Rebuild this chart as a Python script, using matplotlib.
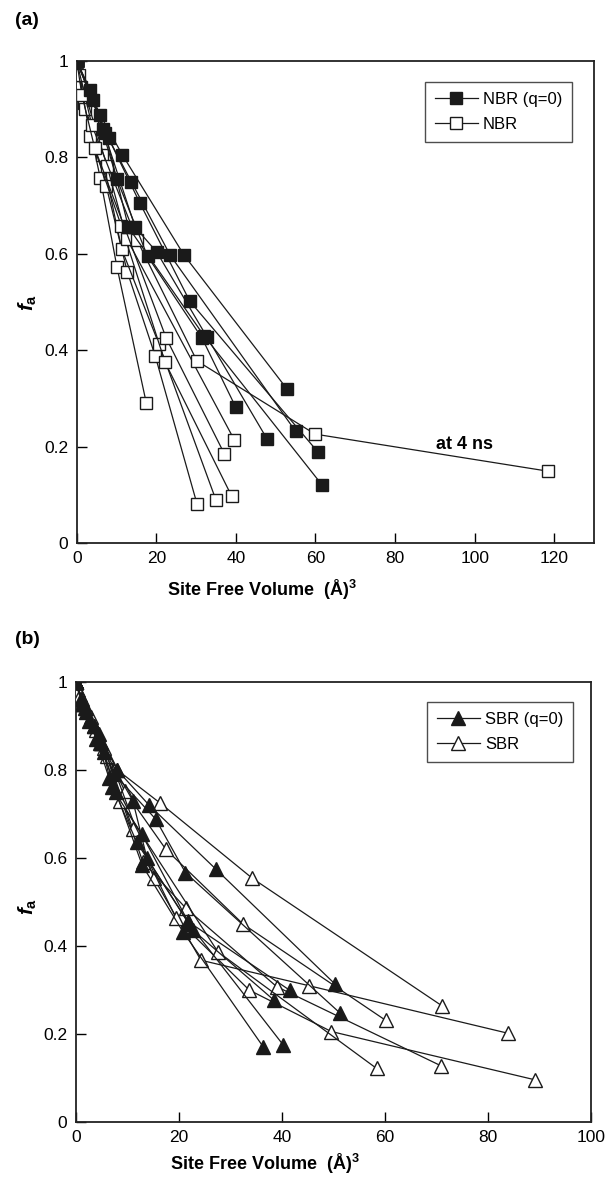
import matplotlib
matplotlib.use('Agg')
import matplotlib.pyplot as plt
from matplotlib.lines import Line2D

plt.rcParams['font.family'] = ['Liberation Sans', 'DejaVu Sans']
plt.rcParams['mathtext.fontset'] = 'custom'
plt.rcParams['mathtext.rm'] = 'Liberation Sans:bold'
plt.rcParams['mathtext.it'] = 'Liberation Sans:bold:italic'
plt.rcParams['mathtext.bf'] = 'Liberation Sans:bold'

# (a) NBR, filled = q=0, open = charged ; one list per trajectory
nbr_q0_x = [[0, 3.4, 10.1, 17.8, 31.5, 39.9],
            [0, 4.2, 14.7, 20.1, 32.7, 47.9],
            [0, 5.9, 11.5, 27.0, 52.9],
            [0, 6.7, 13.7, 23.5, 55.0],
            [0, 8.0, 15.9, 28.4, 60.6],
            [0, 7.2, 13.0, 32.0, 61.7]]
nbr_q0_y = [[1, 0.94, 0.755, 0.595, 0.425, 0.283],
            [1, 0.919, 0.655, 0.604, 0.428, 0.215],
            [1, 0.888, 0.805, 0.597, 0.319],
            [1, 0.86, 0.75, 0.597, 0.232],
            [1, 0.84, 0.705, 0.502, 0.189],
            [1, 0.85, 0.655, 0.43, 0.12]]

nbr_x = [[0, 1.0, 5.9, 10.1, 17.5],
         [0, 1.8, 7.4, 12.7, 19.7, 30.2],
         [0, 2.2, 6.3, 11.3, 20.6, 35.0],
         [0, 3.4, 11.2, 22.2, 38.9],
         [0, 0.65, 7.6, 12.6, 39.6],
         [0, 3.8, 15.2, 30.2, 59.9, 118.5],
         [0, 1.3, 4.5, 22.5, 37.1]]
nbr_y = [[1, 0.947, 0.758, 0.573, 0.29],
         [1, 0.912, 0.741, 0.563, 0.389, 0.082],
         [1, 0.90, 0.805, 0.61, 0.414, 0.089],
         [1, 0.844, 0.658, 0.375, 0.098],
         [1, 0.971, 0.783, 0.631, 0.214],
         [1, 0.867, 0.628, 0.378, 0.226, 0.149],
         [1, 0.93, 0.82, 0.425, 0.185]]

# (b) SBR
sbr_q0_x = [[0, 1.5, 4.5, 8.0, 14.2, 27.2, 50.4],
            [0, 1.0, 3.5, 7.5, 15.5, 21.3, 51.2],
            [0, 2.0, 5.0, 7.0, 12.8, 21.8, 41.5],
            [0, 1.2, 4.0, 6.5, 11.8, 22.7, 38.4],
            [0, 2.5, 5.5, 7.8, 12.9, 20.8, 36.4],
            [0, 1.8, 4.8, 11.1, 13.8, 22.0, 40.3]]
sbr_q0_y = [[1, 0.95, 0.88, 0.80, 0.72, 0.574, 0.312],
            [1, 0.96, 0.90, 0.79, 0.688, 0.566, 0.248],
            [1, 0.93, 0.86, 0.76, 0.654, 0.455, 0.299],
            [1, 0.95, 0.87, 0.78, 0.636, 0.436, 0.277],
            [1, 0.91, 0.84, 0.75, 0.583, 0.432, 0.17],
            [1, 0.94, 0.86, 0.729, 0.60, 0.45, 0.174]]

sbr_x = [[0, 0.5, 3.0, 8.0, 16.4, 34.3, 71.0],
         [0, 1.0, 4.0, 9.5, 17.5, 32.5, 60.2],
         [0, 0.8, 5.0, 7.5, 15.2, 24.3, 45.3, 83.9],
         [0, 1.5, 6.0, 13.0, 21.4, 39.0, 70.9],
         [0, 2.0, 5.5, 11.1, 19.5, 33.7, 49.6, 89.2],
         [0, 1.2, 3.5, 8.6, 27.6, 58.4]]
sbr_y = [[1, 0.98, 0.92, 0.80, 0.724, 0.553, 0.264],
         [1, 0.96, 0.89, 0.752, 0.619, 0.449, 0.23],
         [1, 0.97, 0.86, 0.80, 0.553, 0.367, 0.309, 0.201],
         [1, 0.95, 0.83, 0.591, 0.485, 0.307, 0.127],
         [1, 0.94, 0.85, 0.665, 0.462, 0.299, 0.205, 0.095],
         [1, 0.96, 0.90, 0.729, 0.386, 0.121]]

fig = plt.figure(figsize=(6.09, 11.79), dpi=100)
ax1 = fig.add_axes([0.126, 0.5394, 0.8494, 0.4088])
ax2 = fig.add_axes([0.1243, 0.0486, 0.8461, 0.3732])

lw = 0.9


def draw(ax, xs, ys, marker, face, ms):
    for x, y in zip(xs, ys):
        ax.plot(x, y, '-', color='#1a1a1a', lw=lw, marker=marker, ms=ms,
                mfc=face, mec='#1a1a1a', mew=1.0, zorder=3 if face == 'white' else 4)


draw(ax1, nbr_x, nbr_y, 's', 'white', 8.5)
draw(ax1, nbr_q0_x, nbr_q0_y, 's', '#1a1a1a', 8.5)
draw(ax2, sbr_x, sbr_y, '^', 'white', 9.5)
draw(ax2, sbr_q0_x, sbr_q0_y, '^', '#1a1a1a', 9.5)

ax1.text(97.4, 0.205, 'at 4 ns', fontsize=13, fontweight='bold', ha='center', va='center')

for ax, xmax, xt in [(ax1, 130, range(0, 121, 20)), (ax2, 100, range(0, 101, 20))]:
    ax.set_xlim(0, xmax)
    ax.set_ylim(0, 1)
    ax.set_xticks(list(xt))
    ax.set_yticks([0, 0.2, 0.4, 0.6, 0.8, 1])
    ax.set_yticklabels(['0', '0.2', '0.4', '0.6', '0.8', '1'])
    ax.tick_params(direction='in', length=7, width=1, labelsize=12.5, pad=6)
    for s in ax.spines.values():
        s.set_linewidth(1.3)
        s.set_color('#222222')
    ax.set_xlabel(r'Site Free Volume  (Å)$^3$', fontsize=13, fontweight='bold')
    ax.set_ylabel(r'$f_{\mathrm{a}}$', fontsize=15, rotation=90)

ax1.xaxis.set_label_coords(0.358, -0.072)
ax2.xaxis.set_label_coords(0.367, -0.068)
ax1.yaxis.set_label_coords(-0.072, 0.5)
ax2.yaxis.set_label_coords(-0.072, 0.49)

h1 = [Line2D([], [], color='#1a1a1a', lw=lw, marker='s', ms=8.5, mfc='#1a1a1a', mec='#1a1a1a'),
      Line2D([], [], color='#1a1a1a', lw=lw, marker='s', ms=8.5, mfc='white', mec='#1a1a1a')]
h2 = [Line2D([], [], color='#1a1a1a', lw=lw, marker='^', ms=9.5, mfc='#1a1a1a', mec='#1a1a1a'),
      Line2D([], [], color='#1a1a1a', lw=lw, marker='^', ms=9.5, mfc='white', mec='#1a1a1a')]
for ax, h, lab, anchor in [(ax1, h1, ['NBR (q=0)', 'NBR'], (0.958, 0.956)),
                           (ax2, h2, ['SBR (q=0)', 'SBR'], (0.966, 0.954))]:
    leg = ax.legend(h, lab, loc='upper right', bbox_to_anchor=anchor, borderaxespad=0,
                    fontsize=12, frameon=True, fancybox=False, handlelength=2.6,
                    labelspacing=0.6, borderpad=0.6, handletextpad=0.3)
    leg.get_frame().set_edgecolor('#222222')
    leg.get_frame().set_linewidth(1.0)

fig.text(0.025, 0.983, '(a)', fontsize=14, fontweight='bold', ha='left', va='center')
fig.text(0.025, 0.458, '(b)', fontsize=14, fontweight='bold', ha='left', va='center')

fig.savefig('out.png', dpi=100)
